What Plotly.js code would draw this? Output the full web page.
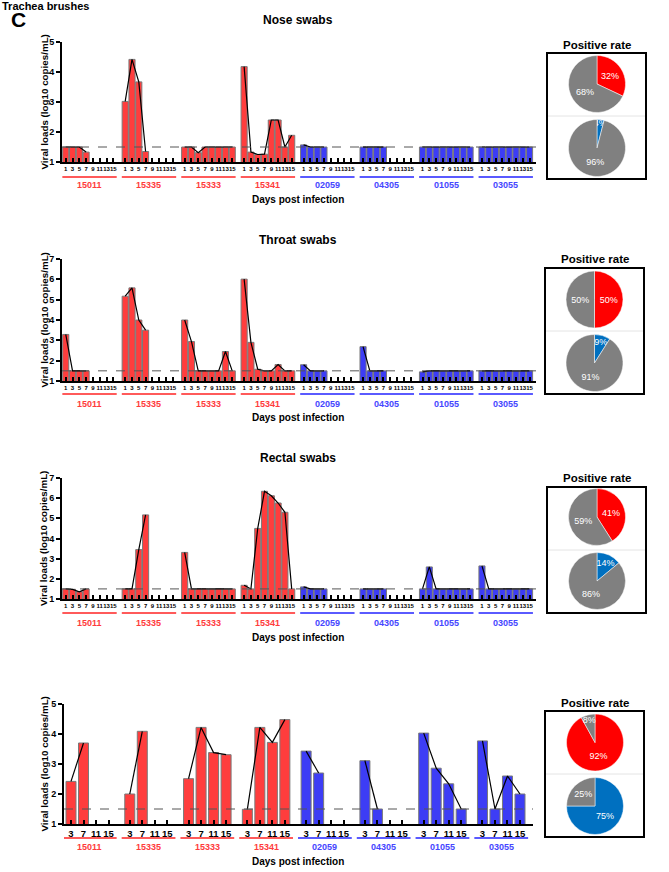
<!DOCTYPE html>
<html><head><meta charset="utf-8">
<script src="https://cdn.plot.ly/plotly-3.0.1.min.js"></script>
<style>html,body{margin:0;padding:0;background:#fff}#chart{width:669px;height:872px}</style>
</head><body><div id="chart"></div>
<script>
// ---------------- DATA ----------------
const animals = ['15011','15335','15333','15341','02059','04305','01055','03055'];
const animalGroup = ['red','red','red','red','blue','blue','blue','blue'];
const swabDays = [1,3,5,7,9,11,13,15];
const trachDays = [3,7,11,15];
const LOD = 1.5;
const yTicks45 = [1,2,3,4,5];
const yTicks7 = [1,2,3,4,5,6,7];

const noseLoads = [
  [1.5,1.5,1.5,1.33,null,null,null,null],
  [3.02,4.42,3.67,1.35,null,null,null,null],
  [1.5,1.5,1.31,1.5,1.5,1.5,1.5,1.5],
  [4.18,1.33,1.25,1.26,2.4,2.4,1.5,1.89],
  [1.57,1.5,1.5,1.5,null,null,null,null],
  [1.5,1.5,1.5,1.5,null,null,null,null],
  [1.5,1.5,1.5,1.5,1.5,1.5,1.5,1.5],
  [1.5,1.5,1.5,1.5,1.5,1.5,1.5,1.5]
];
const throatLoads = [
  [3.29,1.5,1.5,1.5,null,null,null,null],
  [5.17,5.58,4.0,3.5,null,null,null,null],
  [4.0,2.94,1.5,1.5,1.5,1.5,2.45,1.5],
  [6.01,2.9,1.58,1.5,1.5,1.81,1.5,1.5],
  [1.8,1.5,1.5,1.5,null,null,null,null],
  [2.69,1.5,1.5,1.5,null,null,null,null],
  [1.45,1.5,1.5,1.5,1.5,1.5,1.5,1.5],
  [1.5,1.5,1.5,1.5,1.5,1.5,1.5,1.5]
];
const rectalLoads = [
  [1.5,1.48,1.36,1.5,null,null,null,null],
  [1.5,1.5,3.45,5.17,null,null,null,null],
  [3.31,1.5,1.5,1.5,1.5,1.5,1.5,1.5],
  [1.68,1.5,4.5,6.34,6.12,5.76,5.3,1.5],
  [1.6,1.5,1.5,1.5,null,null,null,null],
  [1.5,1.5,1.5,1.5,null,null,null,null],
  [1.5,2.59,1.5,1.5,1.5,1.5,1.5,1.5],
  [2.64,1.5,1.5,1.5,1.5,1.5,1.5,1.5]
];
const tracheaLoads = [
  [2.42,3.7,null,null],
  [2.0,4.09,null,null],
  [2.51,4.22,3.38,3.31],
  [1.49,4.22,3.72,4.48],
  [3.43,2.7,null,null],
  [3.11,1.5,null,null],
  [4.03,2.86,2.34,1.5],
  [3.77,1.5,2.6,2.0]
];
const pieLabels = ['Positive','Negative'];
const nosePie = [[32,68],[4,96]];
const throatPie = [[50,50],[9,91]];
const rectalPie = [[41,59],[14,86]];
const tracheaPie = [[92,8],[75,25]];

// ---------------- STYLE / LAYOUT ----------------
const W = 669, H = 872;
const FONT = 'Liberation Sans, Arial, Helvetica, sans-serif';
const BAR = {red:'#ff3d3d', blue:'#3d3df5'};
const LBL = {red:'#ff3b3b', blue:'#4646ff'};
const UL = {red:'#ff5a5a', blue:'#5a5aff'};
const PIEC = [['#ff0000','#808080'],['#0070c0','#808080']];
const fx = p => p / W, fy = p => 1 - p / H;

const panels = [
  {data:noseLoads, days:swabDays, stride:8.75, barW:0.9, title:'Nose swabs', titleY:20,
   top:42, bot:162, yt:yTicks45, xl:62, xr:536, xr0:-0.55, xr1:69.2, tick:6, ulY:177, lblY:185, xtY:200,
   pie:nosePie, pT:45, box:[547,646,53,179], div:116, c1:[597,84], c2:[597,148]},
  {data:throatLoads, days:swabDays, stride:8.75, barW:0.9, title:'Throat swabs', titleY:240,
   top:259, bot:381, yt:yTicks7, xl:62, xr:536, xr0:-0.55, xr1:69.2, tick:6, ulY:394, lblY:404, xtY:418,
   pie:throatPie, pT:259, box:[545,644,268,394], div:331, c1:[594.5,299.5], c2:[594.5,363]},
  {data:rectalLoads, days:swabDays, stride:8.75, barW:0.9, title:'Rectal swabs', titleY:458,
   top:478, bot:599, yt:yTicks7, xl:62, xr:536, xr0:-0.55, xr1:69.2, tick:6, ulY:613, lblY:623, xtY:637,
   pie:rectalPie, pT:478, box:[547,646,487,613], div:550, c1:[597,517], c2:[597,581]},
  {data:tracheaLoads, days:trachDays, stride:4.7, barW:0.8, title:'', titleY:0,
   top:704, bot:824, yt:yTicks45, xl:64, xr:533, xr0:-0.56, xr1:36.94, tick:9.5, ulY:838, lblY:847, xtY:861,
   pie:tracheaPie, pT:703, box:[545,644,711,837], div:774, c1:[595,742.5], c2:[595,806]}
];

const traces = [], shapes = [], annotations = [];
const layout = {width:W, height:H, margin:{l:0,r:0,t:0,b:0}, paper_bgcolor:'#fff', plot_bgcolor:'rgba(0,0,0,0)',
  showlegend:false, font:{family:FONT, color:'#000'}, bargap:0,
  uniformtext:{minsize:8.5, mode:'show'}};

panels.forEach((p, k) => {
  const n = k + 1;
  const xa = 'x' + (n === 1 ? '' : n), ya = 'y' + (n === 1 ? '' : n);
  const xKey = 'xaxis' + (n === 1 ? '' : n), yKey = 'yaxis' + (n === 1 ? '' : n);
  const pos = (g, i) => g * p.stride + i;
  const tv = [], tt = [];
  const lineX = [], lineY = [];
  ['red','blue'].forEach(col => {
    const bx = [], by = [];
    p.data.forEach((vals, g) => {
      if (animalGroup[g] !== col) return;
      vals.forEach((v, i) => { bx.push(pos(g, i)); by.push(v); });
    });
    traces.push({type:'bar', x:bx, y:by, xaxis:xa, yaxis:ya, width:p.barW,
      marker:{color:BAR[col], line:{color:'#7a7a7a', width:1}}, hoverinfo:'skip'});
  });
  p.data.forEach((vals, g) => {
    vals.forEach((v, i) => {
      tv.push(pos(g, i)); tt.push(String(p.days[i]));
      lineX.push(pos(g, i)); lineY.push(v);
    });
    lineX.push(null); lineY.push(null);
    const last = vals.length - 1;
    const pad = p.barW / 2 + (k === 3 ? 0.25 : 0.05);
    shapes.push({type:'line', xref:xa, yref:'paper', x0:pos(g,0)-pad, x1:pos(g,last)+pad,
      y0:fy(p.ulY), y1:fy(p.ulY), line:{color:UL[animalGroup[g]], width:2}});
    annotations.push({xref:xa, yref:'paper', x:(pos(g,0)+pos(g,last))/2, y:fy(p.lblY), text:animals[g],
      showarrow:false, xanchor:'center', yanchor:'middle',
      font:{family:FONT, size:9, weight:700, color:LBL[animalGroup[g]]}});
  });
  traces.push({type:'scatter', mode:'lines', x:lineX, y:lineY, xaxis:xa, yaxis:ya, connectgaps:false,
    line:{color:'#000', width:1.2}, hoverinfo:'skip', cliponaxis:true});

  layout[xKey] = {domain:[fx(p.xl), fx(p.xr)], range:[p.xr0, p.xr1], anchor:ya,
    tickvals:tv, ticktext:tt, tickangle:0, ticks:'inside', ticklen:4, tickwidth:2, tickcolor:'#000',
    showline:true, linewidth:2, linecolor:'#000', showgrid:false, zeroline:false, fixedrange:true,
    tickfont:{family:FONT, size:p.tick, weight:700, color:'#000'}};
  layout[yKey] = {domain:[fy(p.bot), fy(p.top)], range:[1, p.yt[p.yt.length-1]], anchor:xa,
    tickvals:p.yt, ticktext:p.yt.map(String), ticks:'outside', ticklen:4, tickwidth:2, tickcolor:'#000',
    showline:true, linewidth:2, linecolor:'#000', showgrid:false, zeroline:false, fixedrange:true,
    tickfont:{family:FONT, size:9, weight:700, color:'#000'}};

  // LOD dashed line
  shapes.push({type:'line', xref:xa + ' domain', yref:ya, x0:0, x1:1, y0:LOD, y1:LOD,
    line:{color:'#555', width:1, dash:'dash'}});

  if (p.title) annotations.push({xref:'paper', yref:'paper', x:fx(298), y:fy(p.titleY), text:p.title,
    showarrow:false, xanchor:'center', yanchor:'middle', font:{family:FONT, size:12, weight:700}});
  annotations.push({xref:'paper', yref:'paper', x:fx(43.5), y:fy((p.top+p.bot)/2), text:'Viral loads (log10 copies/mL)',
    textangle:-90, showarrow:false, xanchor:'center', yanchor:'middle', font:{family:FONT, size:9.8, weight:700}});
  annotations.push({xref:'paper', yref:'paper', x:fx(298), y:fy(p.xtY), text:'Days post infection',
    showarrow:false, xanchor:'center', yanchor:'middle', font:{family:FONT, size:10, weight:700}});

  // Pies
  const R = 28.5;
  [p.c1, p.c2].forEach((c, j) => {
    traces.push({type:'pie', labels:pieLabels, values:p.pie[j], sort:false, direction:'clockwise', rotation:0,
      marker:{colors:PIEC[j], line:{color:'#ffffff', width:0.5}},
      texttemplate:'%{value}%', textposition:'inside', insidetextorientation:'horizontal',
      textfont:{family:FONT, size:9, color:'#ffffff'}, hoverinfo:'skip', showlegend:false,
      domain:{x:[fx(c[0]-R), fx(c[0]+R)], y:[fy(c[1]+R), fy(c[1]-R)]}});
  });
  const b = p.box;
  shapes.push({type:'rect', xref:'paper', yref:'paper', x0:fx(b[0]), x1:fx(b[1]), y0:fy(b[3]), y1:fy(b[2]),
    line:{color:'#000', width:2}, fillcolor:'rgba(0,0,0,0)'});
  shapes.push({type:'line', xref:'paper', yref:'paper', x0:fx(b[0]+1), x1:fx(b[1]-1), y0:fy(p.div), y1:fy(p.div),
    line:{color:'#e4e4e4', width:1}});
  annotations.push({xref:'paper', yref:'paper', x:fx((b[0]+b[1])/2), y:fy(p.pT), text:'Positive rate',
    showarrow:false, xanchor:'center', yanchor:'middle', font:{family:FONT, size:11.5, weight:700}});
});

annotations.push({xref:'paper', yref:'paper', x:fx(0), y:fy(6), text:'Trachea brushes', showarrow:false,
  xanchor:'left', yanchor:'middle', font:{family:FONT, size:11, weight:700}});
annotations.push({xref:'paper', yref:'paper', x:fx(18), y:fy(19), text:'C', showarrow:false,
  xanchor:'center', yanchor:'middle', font:{family:FONT, size:21, weight:700}});

layout.shapes = shapes;
layout.annotations = annotations;
Plotly.newPlot('chart', traces, layout, {staticPlot:true, displayModeBar:false});
</script></body></html>
